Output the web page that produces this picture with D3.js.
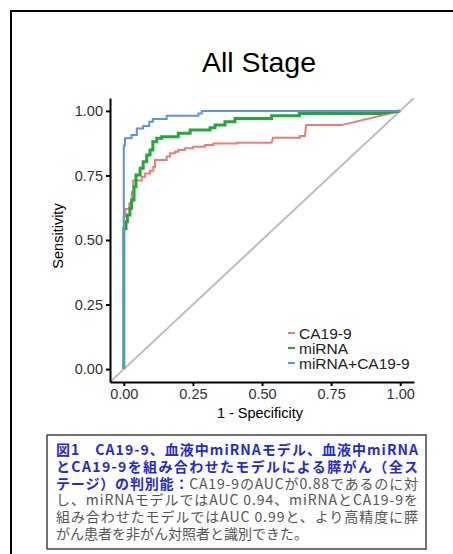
<!DOCTYPE html>
<html>
<head>
<meta charset="utf-8">
<script src="https://cdn.jsdelivr.net/npm/d3@7"></script>
<style>
  body { margin: 0; background: #fff; }
  svg { display: block; }
</style>
</head>
<body>
<script>
// ROC vertices: 1 - specificity / sensitivity
var caFpr   = [0,0,0.005,0.005,0.02,0.02,0.029,0.029,0.034,0.034,0.065,0.065,0.077,0.077,0.095,0.095,0.107,0.107,0.113,0.113,0.155,0.155,0.167,0.167,0.185,0.185,0.197,0.197,0.221,0.221,0.251,0.251,0.294,0.294,0.324,0.324,0.408,0.408,0.535,0.54,0.637,0.637,0.655,0.66,0.788,1];
var caSens  = [0,0.59,0.59,0.62,0.62,0.642,0.642,0.687,0.687,0.73,0.73,0.745,0.745,0.758,0.758,0.768,0.768,0.784,0.784,0.81,0.81,0.823,0.823,0.836,0.836,0.842,0.842,0.849,0.849,0.855,0.855,0.861,0.861,0.868,0.868,0.874,0.874,0.877,0.877,0.896,0.896,0.903,0.903,0.945,0.945,1];

var miFpr   = [0,0,0.008,0.008,0.013,0.013,0.022,0.022,0.028,0.028,0.037,0.037,0.044,0.044,0.059,0.059,0.07,0.07,0.083,0.083,0.095,0.095,0.105,0.105,0.119,0.119,0.137,0.137,0.197,0.197,0.24,0.24,0.312,0.312,0.33,0.33,0.366,0.366,0.402,0.402,0.535,0.535,0.635,0.635,0.927,1];
var miSens  = [0,0.545,0.545,0.571,0.571,0.597,0.597,0.623,0.623,0.655,0.655,0.706,0.706,0.752,0.752,0.778,0.778,0.803,0.803,0.829,0.829,0.849,0.849,0.881,0.881,0.894,0.894,0.9,0.9,0.913,0.913,0.926,0.926,0.935,0.935,0.945,0.945,0.958,0.958,0.971,0.971,0.981,0.981,0.99,0.99,1];

var combFpr  = [0,0,0.004,0.004,0.028,0.028,0.047,0.047,0.07,0.07,0.092,0.092,0.105,0.105,0.155,0.155,0.27,0.27,0.282,0.282,1];
var combSens = [0,0.866,0.866,0.894,0.894,0.907,0.907,0.932,0.932,0.942,0.942,0.958,0.958,0.969,0.969,0.981,0.981,0.99,0.99,1,1];

var seriesNames = ["CA19-9", "miRNA", "miRNA+CA19-9"];
var axisTicks = [0, 0.25, 0.5, 0.75, 1];

var captionLines = [
  [["図1　CA19-9、血液中miRNAモデル、血液中miRNA", true]],
  [["とCA19-9を組み合わせたモデルによる膵がん（全ス", true]],
  [["テージ）の判別能：", true], ["CA19-9のAUCが0.88であるのに対", false]],
  [["し、miRNAモデルではAUC 0.94、miRNAとCA19-9を", false]],
  [["組み合わせたモデルではAUC 0.99と、より高精度に膵", false]],
  [["がん患者を非がん対照者と識別できた。", false]]
];

var colors = ["#F47A70", "#1FAA35", "#5F93E0"];
var widths = [2, 3, 2];
var latin = "Liberation Sans, Arial, sans-serif";

var W = 453, H = 554;
var svg = d3.select("body").append("svg").attr("width", W).attr("height", H);

// outer frame (runs off the right and bottom edges)
svg.append("path")
  .attr("d", "M11," + H + " L11,11 L" + W + ",11")
  .attr("fill", "none").attr("stroke", "#000").attr("stroke-width", 2);

var x = d3.scaleLinear().domain([-0.05, 1.05]).range([110, 414]);
var y = d3.scaleLinear().domain([-0.05, 1.05]).range([382, 98]);

svg.append("clipPath").attr("id", "panel")
  .append("rect").attr("x", 110).attr("y", 98).attr("width", 304).attr("height", 284);

// chance line
svg.append("line")
  .attr("clip-path", "url(#panel)")
  .attr("x1", x(-0.05)).attr("y1", y(-0.05))
  .attr("x2", x(1.05)).attr("y2", y(1.05))
  .attr("stroke", "#BDBDBD").attr("stroke-width", 2);

var line = d3.line().x(function(d){ return x(d[0]); }).y(function(d){ return y(d[1]); });
var series = [[caFpr, caSens], [miFpr, miSens], [combFpr, combSens]];
series.forEach(function(s, i) {
  svg.append("path")
    .attr("d", line(d3.zip(s[0], s[1])))
    .attr("fill", "none")
    .attr("stroke", colors[i])
    .attr("stroke-width", widths[i]);
});

var fmt = d3.format(".2f");
var yAxis = d3.axisLeft(y).tickValues(axisTicks).tickFormat(fmt).tickSize(4).tickSizeOuter(0).tickPadding(3);
var xAxis = d3.axisBottom(x).tickValues(axisTicks).tickFormat(fmt).tickSize(4).tickSizeOuter(0).tickPadding(3);

var gy = svg.append("g").attr("transform", "translate(110,0)").call(yAxis);
var gx = svg.append("g").attr("transform", "translate(0,382)").call(xAxis);
[gx, gy].forEach(function(g) {
  g.select(".domain").attr("stroke", "#000").attr("stroke-width", 2);
  g.selectAll(".tick line").attr("stroke", "#000").attr("stroke-width", 2);
  g.selectAll(".tick text").attr("fill", "#333").style("font-family", latin).style("font-size", "14.5px");
});

svg.append("text").attr("x", 259).attr("y", 72).attr("text-anchor", "middle")
  .style("font-family", latin).style("font-size", "28.5px")
  .text("All Stage");

svg.append("text").attr("x", 260).attr("y", 418).attr("text-anchor", "middle")
  .style("font-family", latin).style("font-size", "14.5px")
  .text("1 - Specificity");

svg.append("text").attr("transform", "translate(63,236) rotate(-90)").attr("text-anchor", "middle")
  .style("font-family", latin).style("font-size", "14.5px")
  .text("Sensitivity");

// legend
var leg = svg.append("g").attr("transform", "translate(288,333)");
seriesNames.forEach(function(n, i) {
  var r = leg.append("g").attr("transform", "translate(0," + (i * 15) + ")");
  r.append("line").attr("x1", 0).attr("x2", 7).attr("y1", 0).attr("y2", 0)
    .attr("stroke", colors[i]).attr("stroke-width", 2);
  r.append("text").attr("x", 11).attr("y", 5.5)
    .style("font-family", latin).style("font-size", "15.5px")
    .attr("fill", "#222").text(n);
});

// caption box
svg.append("rect").attr("x", 47).attr("y", 435).attr("width", 379).attr("height", 114)
  .attr("fill", "#fff").attr("stroke", "#444").attr("stroke-width", 1.5);

captionLines.forEach(function(parts, i) {
  var t = svg.append("text").attr("x", 56).attr("y", 455 + i * 16.8)
    .style("font-family", "Noto Sans CJK JP, sans-serif").style("font-size", "14px");
  if (i < 5) t.attr("textLength", 362).attr("lengthAdjust", "spacing");
  parts.forEach(function(p) {
    t.append("tspan").text(p[0])
      .attr("fill", p[1] ? "#1F2BD8" : "#555")
      .attr("font-weight", p[1] ? "bold" : "normal");
  });
});
</script>
</body>
</html>
